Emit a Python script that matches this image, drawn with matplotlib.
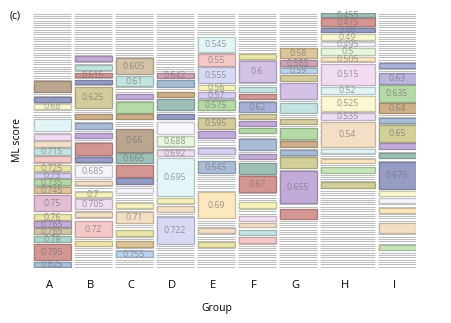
import numpy as np
import matplotlib.pyplot as plt
from matplotlib.patches import Rectangle
from matplotlib.collections import LineCollection
import matplotlib.colors as mcolors

plt.rcParams['font.family'] = ['Open Sans', 'DejaVu Sans']

groups = ['A', 'B', 'C', 'D', 'E', 'F', 'G', 'H', 'I']

# rank slots run 0 (top) .. 255 (bottom); each box: (score label, first slot, last slot, colour)
A_boxes = [(None, 68, 79, 'taupe'), (None, 84, 89, 'slate'), ('0.68', 91, 96, 'ltyellow'),
           (None, 106, 118, 'ltcyan'), (None, 121, 127, 'lavpink'), (None, 128, 134, 'peach'),
           ('0.715', 135, 142, 'ltteal'), (None, 143, 149, 'pink'), ('0.725', 152, 158, 'yellow'),
           ('0.73', 160, 165, 'lavender'), ('0.735', 166, 172, 'green'), ('0.745', 174, 180, 'tan'),
           ('0.75', 182, 198, 'mauve'), ('0.76', 201, 207, 'yellow'), ('0.765', 208, 214, 'purple'),
           ('0.785', 215, 221, 'taupe2'), ('0.79', 223, 229, 'teal'), ('0.795', 231, 247, 'red'),
           ('0.825', 249, 254, 'steel')]
B_boxes = [(None, 43, 48, 'purple'), (None, 52, 57, 'ltteal'), ('0.615', 60, 64, 'red'),
           (None, 67, 71, 'slate'), ('0.625', 74, 95, 'khaki'), (None, 101, 106, 'brown'),
           (None, 110, 116, 'steel'), (None, 120, 125, 'purple'), (None, 130, 142, 'red'),
           (None, 144, 149, 'slate'), ('0.685', 152, 164, 'white'), (None, 168, 172, 'peach'),
           ('0.7', 179, 184, 'ltyellow2'), ('0.705', 186, 196, 'lavpink'), (None, 199, 204, 'peach'),
           ('0.72', 208, 224, 'pink'), (None, 228, 233, 'yellow')]
C_boxes = [('0.605', 45, 61, 'taupe2'), ('0.61', 63, 73, 'ltteal'), (None, 81, 86, 'purple'),
           (None, 89, 100, 'green'), (None, 101, 106, 'brown'), ('0.66', 116, 139, 'taupe'),
           ('0.665', 140, 150, 'tealgray'), (None, 152, 164, 'red'), (None, 165, 171, 'slate'),
           (None, 175, 180, 'white'), (None, 190, 195, 'ltyellow2'), ('0.71', 199, 210, 'peach'),
           (None, 217, 223, 'yellow'), (None, 228, 234, 'tan'), ('0.755', 238, 244, 'ltblue')]
D_boxes = [('0.642', 60, 65, 'mauve2'), (None, 67, 74, 'steel'), (None, 79, 84, 'brown'),
           (None, 86, 97, 'tealgray'), (None, 101, 106, 'slate'), (None, 109, 121, 'white'),
           ('0.688', 123, 133, 'ltgreen'), ('0.692', 137, 143, 'lavpink'), ('0.695', 145, 183, 'ltcyan'),
           (None, 185, 190, 'ltyellow2'), (None, 193, 199, 'peach'), ('0.722', 204, 231, 'lavblue')]
E_boxes = [('0.545', 24, 39, 'ltcyan'), ('0.55', 41, 53, 'pink'), ('0.555', 54, 70, 'lavblue'),
           ('0.56', 72, 77, 'ltyellow2'), ('0.57', 79, 85, 'lavender'), ('0.575', 87, 97, 'green'),
           ('0.595', 105, 116, 'khaki'), (None, 118, 125, 'purple'), (None, 135, 141, 'lavender'),
           ('0.645', 148, 160, 'steel'), ('0.69', 179, 205, 'cream'), (None, 215, 220, 'peach'),
           (None, 229, 234, 'yellow')]
F_boxes = [(None, 41, 46, 'yellow'), ('0.6', 48, 69, 'purple2'), (None, 74, 79, 'ltteal'),
           (None, 81, 86, 'red'), ('0.62', 89, 99, 'steel2'), (None, 101, 106, 'khaki'),
           (None, 108, 113, 'purple'), (None, 115, 120, 'green'), (None, 126, 137, 'steel'),
           (None, 141, 146, 'purple'), (None, 150, 161, 'tealgray'), ('0.67', 163, 179, 'red'),
           (None, 189, 195, 'ltyellow2'), (None, 203, 208, 'lavpink'), (None, 210, 214, 'peach'),
           (None, 217, 222, 'ltteal'), (None, 224, 230, 'pink')]
G_boxes = [('0.58', 35, 45, 'tan'), ('0.585', 47, 53, 'mauve2'), ('0.59', 55, 60, 'ltblue'),
           (None, 62, 68, 'khaki'), (None, 70, 86, 'purple2'), (None, 90, 100, 'ltteal'),
           (None, 106, 111, 'khaki'), (None, 115, 126, 'green'), (None, 128, 134, 'brown'),
           (None, 137, 142, 'steel'), (None, 144, 155, 'olive'), ('0.655', 158, 190, 'purple'),
           (None, 196, 206, 'red')]
H_boxes = [('0.455', 0, 4, 'tealgray'), ('0.475', 5, 13, 'red'), ('0.48', 15, 19, 'slate'),
           ('0.49', 21, 27, 'ltyellow'), ('0.495', 29, 33, 'white'), ('0.5', 35, 42, 'ltgreen'),
           ('0.505', 44, 48, 'cream'), ('0.515', 51, 72, 'lavpink'), ('0.52', 74, 81, 'ltcyan'),
           ('0.525', 83, 98, 'ltyellow'), ('0.535', 100, 107, 'lavpink2'), ('0.54', 109, 134, 'peach'),
           (None, 136, 140, 'ltcyan'), (None, 146, 150, 'cream'), (None, 154, 160, 'ltgreen2'),
           (None, 169, 175, 'olive')]
I_boxes = [(None, 50, 55, 'steel2'), ('0.63', 60, 71, 'purple3'), ('0.635', 72, 89, 'green'),
           ('0.64', 90, 100, 'brown'), (None, 105, 110, 'steel'), ('0.65', 112, 129, 'olive'),
           (None, 130, 136, 'purple'), (None, 140, 145, 'tealgray'), ('0.675', 149, 176, 'slate'),
           (None, 178, 183, 'ltyellow'), (None, 185, 190, 'white'), (None, 195, 200, 'cream'),
           (None, 210, 220, 'peach'), (None, 232, 237, 'ltgreen2')]

all_boxes = [A_boxes, B_boxes, C_boxes, D_boxes, E_boxes, F_boxes, G_boxes, H_boxes, I_boxes]

palette = {
    'taupe': '#bba68f', 'taupe2': '#d3c3a8', 'slate': '#979cc4', 'ltyellow': '#fbf8d2',
    'ltyellow2': '#f7f3bd', 'ltcyan': '#e2f6f8', 'lavpink': '#f1dcf2', 'lavpink2': '#ecdcf5',
    'peach': '#f3dec6', 'ltteal': '#c4e4e1', 'pink': '#f6c9c9', 'yellow': '#ebe5ab',
    'lavender': '#d7cef1', 'green': '#b6d9a8', 'tan': '#ddc49a', 'mauve': '#e3bdd4',
    'mauve2': '#cfa4b9', 'purple': '#c3abd9', 'purple2': '#d3c1e6', 'purple3': '#beb4e0',
    'teal': '#acd6cc', 'red': '#d49693', 'steel': '#aabdd7', 'steel2': '#a9b1d8',
    'khaki': '#d4cc9c', 'olive': '#d2cf99', 'brown': '#cdb08a', 'tealgray': '#9ebfb7',
    'white': '#f7f5fb', 'ltgreen': '#e6f7dc', 'ltgreen2': '#c6e6b9', 'lavblue': '#d8daf5',
    'ltblue': '#bdd4ed', 'cream': '#fbe8bf',
}

widths = [38, 38, 38, 38, 38, 38, 38, 55, 38]
gap = 3
n_slots = 255

fig = plt.figure(figsize=(4.51, 3.23), dpi=100)
ax = fig.add_axes([33 / 451, 55 / 323, 383 / 451, 255 / 323])

lefts = np.concatenate([[0], np.cumsum(np.array(widths[:-1]) + gap)])
centers = lefts + np.array(widths) / 2

# striped background of empty slots
segs = []
for x0, w in zip(lefts, widths):
    for y in np.arange(0.6, n_slots, 2.3):
        segs.append([(x0, y), (x0 + w, y)])
ax.add_collection(LineCollection(segs, colors='#bdbdbd', linewidths=0.75, zorder=1))

grey = np.array([0.58, 0.58, 0.58])
for x0, w, boxes in zip(lefts, widths, all_boxes):
    for label, top, bot, cname in boxes:
        fc = np.array(mcolors.to_rgb(palette[cname]))
        ec = fc * 0.8
        ax.add_patch(Rectangle((x0 + 0.5, top), w - 1, bot - top, facecolor=fc,
                               edgecolor=ec, linewidth=0.9, zorder=2))
        if label:
            tc = 0.5 * fc * 0.65 + 0.5 * grey
            ax.text(x0 + w / 2, (top + bot) / 2 + 0.3, label, ha='center', va='center',
                    fontsize=6.3, color=tc, zorder=3)

ax.set_xlim(0, lefts[-1] + widths[-1])
ax.set_ylim(n_slots, 0)
ax.set_xticks(centers - 3)
ax.set_xticklabels(groups, fontsize=8)
ax.set_yticks([])
ax.tick_params(axis='x', length=0, pad=9)
for s in ax.spines.values():
    s.set_visible(False)

fig.text(217 / 451, 1 - 309 / 323, 'Group', ha='center', va='center', fontsize=7.5)
fig.text(18 / 451, 1 - 140 / 323, 'ML score', ha='center', va='center', fontsize=7.5, rotation=90)
fig.text(15 / 451, 1 - 16 / 323, '(c)', ha='center', va='center', fontsize=7.5)

plt.savefig('out.png', dpi=100)
